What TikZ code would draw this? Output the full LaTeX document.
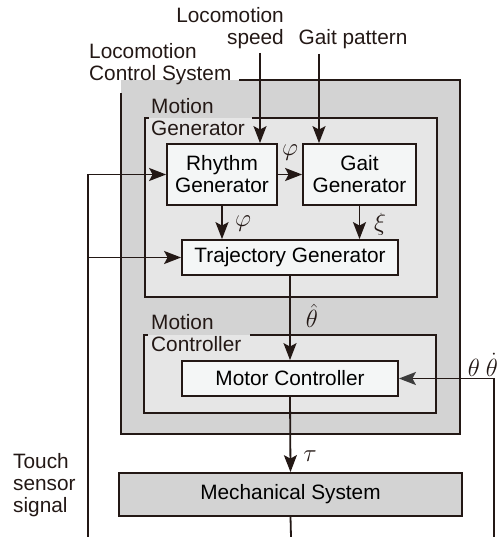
\documentclass[tikz,border=0pt]{standalone}
\usepackage{fontspec}
\setmainfont{Liberation Sans}
\usetikzlibrary{arrows.meta}
\definecolor{ink}{HTML}{231815}
\definecolor{outergray}{HTML}{D3D3D3}
\definecolor{innergray}{HTML}{E6E6E6}
\definecolor{boxwhite}{HTML}{F4F6F6}
\definecolor{tipgray}{HTML}{3C3C3C}
\tikzset{
  lw/.style={line width=1.8pt},
  block/.style={draw=ink, lw, fill=boxwhite, align=center, inner sep=0pt},
  lbl/.style={inner sep=0pt, text=ink},
  mlbl/.style={inner sep=0pt, text=ink, font=\fontsize{23}{25}\selectfont},
  arr/.style={draw=ink, lw, -{Stealth[length=17pt,width=13pt,inset=3.5pt]}},
  arrg/.style={draw=ink, lw, -{Stealth[length=17pt,width=13pt,inset=3.5pt,fill=tipgray,color=tipgray]}},
  line/.style={draw=ink, lw},
}
\begin{document}
\begin{tikzpicture}[x=1pt,y=-1pt,font=\fontsize{20.8}{22}\selectfont]
\useasboundingbox (0,0) rectangle (503,537);
% outer container
\fill[outergray] (121,80) rectangle (460,434);
\draw[line] (121,93) -- (121,434) -- (460,434) -- (460,80) -- (239,80);
\node[lbl, align=left, anchor=west] (lcs) at (89,64) {Locomotion\\Control System};
% motion generator container
\fill[innergray] (145,118) rectangle (437,297);
\draw[line] (149,118) -- (145,118) -- (145,297) -- (437,297) -- (437,118) -- (252,118);
\node[lbl, align=left, anchor=west] (mgl) at (151,117) {Motion\\Generator};
% motion controller container
\fill[innergray] (144,335) rectangle (436,413);
\draw[line] (148,335) -- (144,335) -- (144,413) -- (436,413) -- (436,335) -- (250,335);
\node[lbl, align=left, anchor=west] (mcl) at (151,333) {Motion\\Controller};
% blocks
\node[block, minimum width=110pt, minimum height=61pt] (rg) at (222,174.5) {Rhythm\\Generator};
\node[block, minimum width=113pt, minimum height=61pt] (gg) at (359.5,174.5) {Gait\\Generator};
\node[block, minimum width=216pt, minimum height=35pt] (tg) at (290,257.5) {Trajectory Generator};
\node[block, minimum width=216pt, minimum height=35pt] (mc) at (290,378.5) {Motor Controller};
\node[block, fill=outergray, minimum width=343pt, minimum height=43pt] (ms) at (290.5,494.5) {Mechanical System};
% inputs
\node[lbl, align=right, anchor=east] (ls) at (284,28) {Locomotion\\speed};
\node[lbl] (gp) at (353,39) {Gait pattern};
\node[lbl, align=left, anchor=west] (ts) at (13,485) {Touch\\sensor\\signal};
\coordinate (spdx) at (260,0);
\coordinate (gpx) at (319,0);
\coordinate (lb) at (88,537);
\coordinate (rb) at (494,537);
\coordinate (bot) at (291,537);
% connectors
\draw[arr] (spdx |- ls.south) ++(0,4) -- (spdx |- rg.north);
\draw[arr] (gpx |- gp.south) ++(0,5) -- (gpx |- gg.north);
\draw[arr] (rg.east) -- (gg.west);
\draw[arr] (rg.south) -- (rg.south |- tg.north);
\draw[arr] (gg.south) -- (gg.south |- tg.north);
\draw[arr] (tg.south) -- (mc.north);
\draw[arr] (mc.south) -- (ms.north);
\draw[line] (ms.south) -- (bot);
\draw[arr] (lb) |- (rg.west);
\draw[arr] (lb |- tg.west) -- (tg.west);
\draw[arrg] (rb) |- (mc.east);
% math labels
\node[mlbl] (phi1) at (290,153) {$\varphi$};
\node[mlbl] (phi2) at (243,224) {$\varphi$};
\node[mlbl] (xi) at (380,224) {$\xi$};
\node[mlbl] (th) at (312,316) {$\hat{\theta}$};
\node[mlbl] (tau) at (310,456) {$\tau$};
\node[mlbl] (th1) at (474,368) {$\theta$};
\node[mlbl] (th2) at (492,365) {$\dot{\theta}$};
\end{tikzpicture}
\end{document}
